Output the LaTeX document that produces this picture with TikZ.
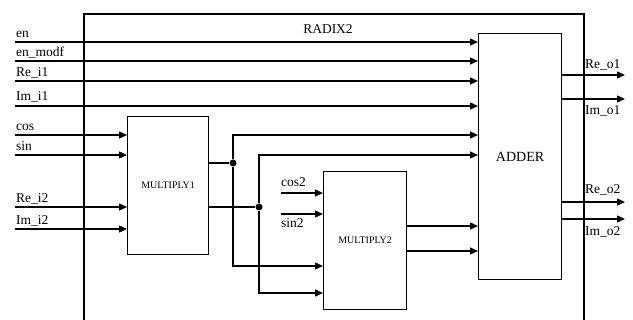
\documentclass[tikz,border=0pt]{standalone}
\usepackage{fontspec}
\setmainfont{Liberation Serif}
\usetikzlibrary{positioning,calc}
\usetikzlibrary{arrows.meta}
\tikzset{
  blk/.style={draw=black,line width=1.2pt,inner sep=0pt,anchor=north west},
  sig/.style={draw=black,line width=1.3pt},
  arr/.style={sig,-{Triangle[length=8pt,width=7pt]}},
  lab/.style={inner sep=0pt,anchor=base west,font=\fontsize{13.5}{15}\selectfont},
  dot/.style={circle,fill=black,inner sep=0pt,minimum size=7pt},
}

\begin{document}
\begin{tikzpicture}[x=1pt,y=-1pt]
\useasboundingbox (0,0) rectangle (633,320);
% blocks
\node[blk,line width=1.6pt,minimum width=500pt,minimum height=330pt] (radix) at (83,13) {};
\node[font=\fontsize{13.5}{15}\selectfont] (title) at (328,29) {RADIX2};
\node[blk,minimum width=83pt,minimum height=246pt,font=\fontsize{14}{16}\selectfont] (adder) at (478,33) {ADDER};
\node[blk,minimum width=81pt,minimum height=138pt,font=\fontsize{10}{12}\selectfont] (mult1) at (127,116) {MULTIPLY1};
\node[blk,minimum width=83pt,minimum height=138pt,font=\fontsize{10}{12}\selectfont] (mult2) at (323,171) {MULTIPLY2};
% input rows
\coordinate (in1) at (15,42);
\coordinate (in2) at (15,61);
\coordinate (in3) at (15,81);
\coordinate (in4) at (15,106);
\coordinate (in5) at (15,135);
\coordinate (in6) at (15,155);
\coordinate (in7) at (15,207);
\coordinate (in8) at (15,229);
\coordinate (in9) at (281,193);
\coordinate (in10) at (281,214);
% ports
\coordinate (ad5) at (adder.west |- 0,135);
\coordinate (ad6) at (adder.west |- 0,155);
\coordinate (ad7) at (adder.west |- 0,226);
\coordinate (ad8) at (adder.west |- 0,251);
\coordinate (m2c) at (mult2.west |- 0,266);
\coordinate (m2d) at (mult2.west |- 0,293);
\coordinate (out1) at (625,75);
\coordinate (out2) at (625,99);
\coordinate (out3) at (625,202);
\coordinate (out4) at (625,219);
\node[dot] (j1) at (233,163) {};
\node[dot] (j2) at (259,207) {};
% inputs
\draw[arr] (in1) -- (in1 -| adder.west);
\draw[arr] (in2) -- (in2 -| adder.west);
\draw[arr] (in3) -- (in3 -| adder.west);
\draw[arr] (in4) -- (in4 -| adder.west);
\draw[arr] (in5) -- (in5 -| mult1.west);
\draw[arr] (in6) -- (in6 -| mult1.west);
\draw[arr] (in7) -- (in7 -| mult1.west);
\draw[arr] (in8) -- (in8 -| mult1.west);
\draw[arr] (in9) -- (in9 -| mult2.west);
\draw[arr] (in10) -- (in10 -| mult2.west);
% multiply1 outputs
\draw[sig] (j1 -| mult1.east) -- (j1);
\draw[sig] (j2 -| mult1.east) -- (j2);
\draw[arr] (j1) |- (ad5);
\draw[arr] (j1) |- (m2c);
\draw[arr] (j2) |- (ad6);
\draw[arr] (j2) |- (m2d);
% multiply2 outputs
\draw[arr] (ad7 -| mult2.east) -- (ad7);
\draw[arr] (ad8 -| mult2.east) -- (ad8);
% adder outputs
\draw[arr] (out1 -| adder.east) -- (out1);
\draw[arr] (out2 -| adder.east) -- (out2);
\draw[arr] (out3 -| adder.east) -- (out3);
\draw[arr] (out4 -| adder.east) -- (out4);
% labels
\node[lab] (len) at (16,38) {en};
\node[lab] (lenm) at (16,57) {en\_modf};
\node[lab] (lre1) at (16,77) {Re\_i1};
\node[lab] (lim1) at (16,101) {Im\_i1};
\node[lab] (lcos) at (16,131) {cos};
\node[lab] (lsin) at (16,151) {sin};
\node[lab] (lre2) at (16,203) {Re\_i2};
\node[lab] (lim2) at (16,225) {Im\_i2};
\node[lab] (lcos2) at (281,187) {cos2};
\node[lab] (lsin2) at (281,228) {sin2};
\node[lab] (lreo1) at (585,69) {Re\_o1};
\node[lab] (limo1) at (585,115) {Im\_o1};
\node[lab] (lreo2) at (585,194) {Re\_o2};
\node[lab] (limo2) at (585,236) {Im\_o2};
\end{tikzpicture}
\end{document}
